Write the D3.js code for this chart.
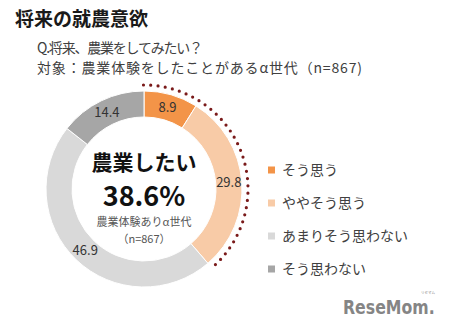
<!DOCTYPE html>
<html><head><meta charset="utf-8">
<script src="https://cdn.jsdelivr.net/npm/d3@7"></script>
<style>
html,body{margin:0;padding:0;background:#fff;}
svg{display:block;font-family:"Noto Sans CJK JP","Noto Sans",sans-serif;}
</style></head>
<body>
<svg id="chart" width="450" height="329"></svg>
<script>
const categories = ["そう思う", "ややそう思う", "あまりそう思わない", "そう思わない"];
const values = [8.9, 29.8, 46.9, 14.4];
const valueLabels = ["8.9", "29.8", "46.9", "14.4"];
const colors = ["#F39448", "#F8CBA7", "#D9D9D9", "#A6A6A6"];
const title = "将来の就農意欲";
const subtitle = ["Q.将来、農業をしてみたい？", "対象：農業体験をしたことがあるα世代（n=867)"];
const subtitleWidths = [166, 325];
const centerLines = ["農業したい", "38.6%", "農業体験ありα世代", "（n=867）"];
const highlightCount = 2; // first two categories are "want to"

const svg = d3.select("#chart");

// Title & subtitle
svg.append("text").attr("x", 15).attr("y", 26)
  .attr("font-size", 19).attr("font-weight", 700).attr("fill", "#1a1a1a").text(title);
svg.selectAll("text.sub").data(subtitle).enter().append("text")
  .attr("class", "sub").attr("x", 37).attr("y", (d, i) => 53 + i * 19.5)
  .attr("font-size", 14).attr("fill", "#404040")
  .attr("textLength", (d, i) => subtitleWidths[i]).attr("lengthAdjust", "spacing")
  .text(d => d);

// Donut
const cx = 144, cy = 189, R = 98, r = 72;
const g = svg.append("g").attr("transform", `translate(${cx},${cy})`);
const pie = d3.pie().sort(null).value(d => d);
const arcs = pie(values);
const arc = d3.arc().innerRadius(r).outerRadius(R);
const labelArc = d3.arc().innerRadius((r + R) / 2).outerRadius((r + R) / 2);

g.selectAll("path.seg").data(arcs).enter().append("path")
  .attr("class", "seg").attr("d", arc)
  .attr("fill", (d, i) => colors[i]).attr("stroke", "#fff").attr("stroke-width", 1);

g.selectAll("text.val").data(arcs).enter().append("text")
  .attr("class", "val")
  .attr("transform", d => `translate(${labelArc.centroid(d)})`)
  .attr("text-anchor", "middle").attr("dy", "0.36em")
  .attr("font-size", 13).attr("fill", "#333").text((d, i) => valueLabels[i]);

// Dotted highlight arc
const a0 = arcs[0].startAngle - 0.005, a1 = arcs[highlightCount - 1].endAngle;
const p = d3.path();
p.arc(0, 0, R + 6, a0 - Math.PI / 2, a1 - Math.PI / 2);
g.append("path").attr("d", p.toString()).attr("fill", "none")
  .attr("stroke", "#7A1A1A").attr("stroke-width", 3.2)
  .attr("stroke-linecap", "round").attr("stroke-dasharray", "0 7.3");

// Center text
g.append("text").attr("x", 0).attr("y", -19.5).attr("text-anchor", "middle")
  .attr("font-size", 21).attr("font-weight", 700).attr("fill", "#111").text(centerLines[0]);
g.append("text").attr("x", 0).attr("y", 16.5).attr("text-anchor", "middle")
  .attr("font-size", 27).attr("font-weight", 700).attr("fill", "#111").text(centerLines[1]);
g.append("text").attr("x", 0).attr("y", 37).attr("text-anchor", "middle")
  .attr("font-size", 11).attr("fill", "#555").text(centerLines[2]);
g.append("text").attr("x", 0).attr("y", 54).attr("text-anchor", "middle")
  .attr("font-size", 11).attr("fill", "#555").text(centerLines[3]);

// Legend
const lg = svg.append("g").attr("transform", "translate(268,170)");
const rows = lg.selectAll("g").data(categories).enter().append("g")
  .attr("transform", (d, i) => `translate(0,${i * 33})`);
rows.append("rect").attr("x", 0).attr("y", -3.5).attr("width", 7).attr("height", 7)
  .attr("fill", (d, i) => colors[i]);
rows.append("text").attr("x", 14).attr("dy", "0.36em")
  .attr("font-size", 14).attr("fill", "#404040").text(d => d);

// Watermark
svg.append("g").attr("transform", "translate(343,314) scale(1,1.15)")
  .append("text").attr("x", 0).attr("y", 0)
  .attr("font-family", "'DejaVu Sans Condensed','DejaVu Sans',sans-serif")
  .attr("font-size", 17.5).attr("font-weight", 700).attr("fill", "#858585")
  .text("ReseMom.");
svg.append("text").attr("x", 428).attr("y", 294).attr("text-anchor", "middle")
  .attr("font-size", 3.5).attr("fill", "#858585").text("リセマム");
</script>
</body></html>
